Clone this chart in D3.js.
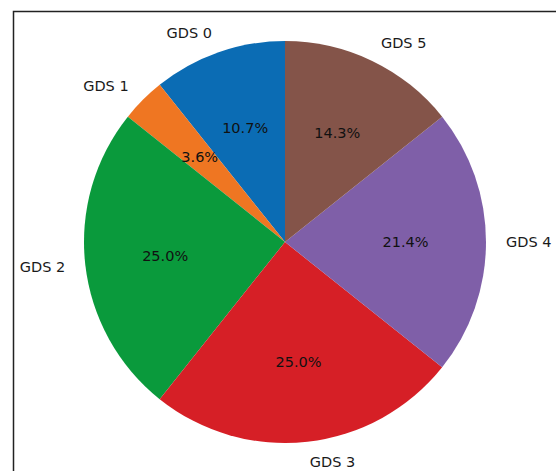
<!DOCTYPE html>
<html><head><meta charset="utf-8">
<script src="https://cdn.jsdelivr.net/npm/d3@7"></script>
<style>body{margin:0;background:#fff}svg{display:block}</style>
</head><body><div id="chart"></div>
<script>
const categories = ["GDS 0","GDS 1","GDS 2","GDS 3","GDS 4","GDS 5"];
const values = [3, 1, 7, 7, 6, 4];
const colors = ["#0b6cb4","#ef7622","#0a9a3c","#d61f26","#7f5fa8","#845449"];

const W = 556, H = 471;
const cx = 285, cy = 242, R = 201;
const svg = d3.select("#chart").append("svg").attr("width", W).attr("height", H);

// frame
svg.append("path").attr("d", `M13.5,${H} V11.5 H${W}`).attr("fill","none").attr("stroke","#222").attr("stroke-width",1.5);

const total = d3.sum(values);
// matplotlib: startangle 90, counterclockwise. d3 angle: 0 at top, clockwise.
const pie = d3.pie().sort(null).value(d => d).startAngle(0).endAngle(-2*Math.PI);
const arcs = pie(values);
const arc = d3.arc().innerRadius(0).outerRadius(R);
const g = svg.append("g").attr("transform", `translate(${cx},${cy})`);
g.selectAll("path.slice").data(arcs).join("path").attr("class","slice")
  .attr("d", arc).attr("fill", (d,i) => colors[i]);

const font = "DejaVu Sans, sans-serif";
arcs.forEach((d,i) => {
  const mid = (d.startAngle + d.endAngle)/2;
  const sx = Math.sin(mid), sy = -Math.cos(mid);
  const lx = 1.1*R*sx, ly = 1.1*R*sy;
  g.append("text").attr("x", lx).attr("y", ly)
    .attr("text-anchor", lx > 0.5 ? "start" : (lx < -0.5 ? "end" : "middle"))
    .attr("dominant-baseline","central")
    .attr("font-family", font).attr("font-size", 14.5).attr("fill","#1a1a1a")
    .text(categories[i]);
  const px = 0.6*R*sx, py = 0.6*R*sy;
  g.append("text").attr("x", px).attr("y", py)
    .attr("text-anchor","middle").attr("dominant-baseline","central")
    .attr("font-family", font).attr("font-size", 14.5).attr("fill","#111")
    .text((values[i]/total*100).toFixed(1) + "%");
});
</script></body></html>
